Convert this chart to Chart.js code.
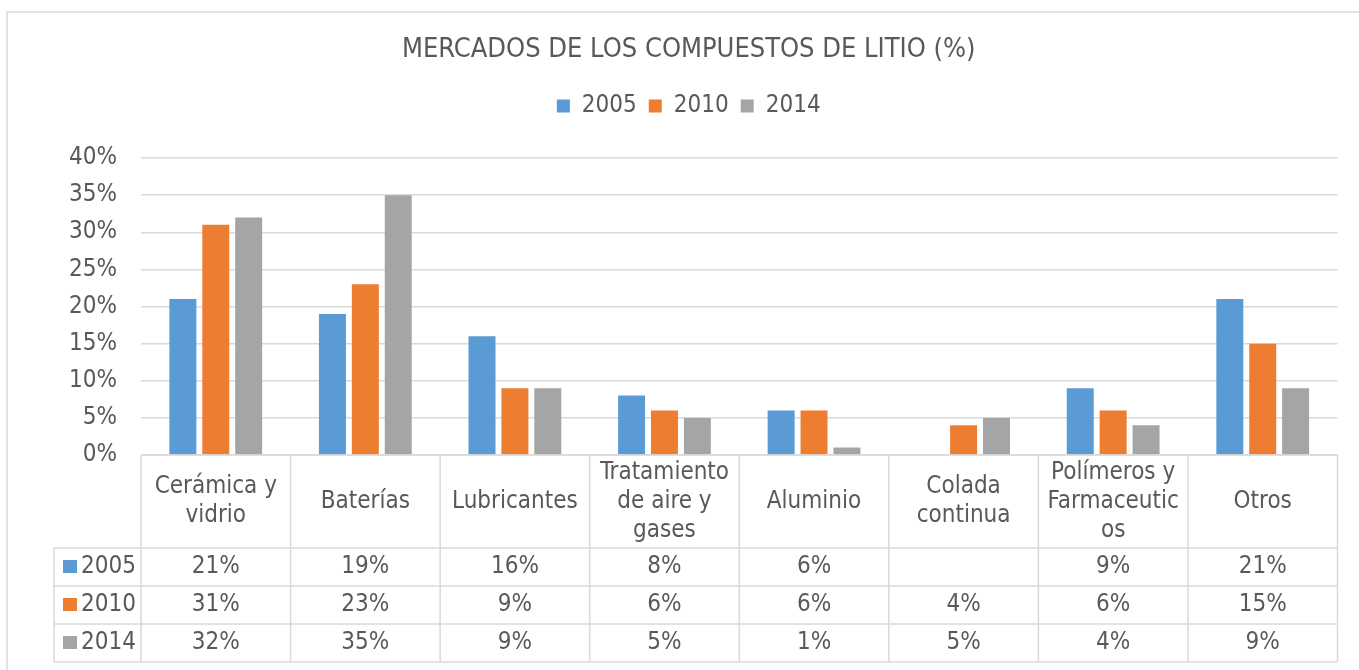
<!DOCTYPE html>
<html>
<head>
<meta charset="utf-8">
<script src="https://cdn.jsdelivr.net/npm/chart.js@4.4.0/dist/chart.umd.min.js"></script>
<style>
body { margin: 0; background: #fff; }
</style>
</head>
<body>
<canvas id="myChart" width="1359" height="670"></canvas>
<script>
// data
const categories = [
    ['Cerámica y', 'vidrio'],
    ['Baterías'],
    ['Lubricantes'],
    ['Tratamiento', 'de aire y', 'gases'],
    ['Aluminio'],
    ['Colada', 'continua'],
    ['Polímeros y', 'Farmaceutic', 'os'],
    ['Otros']
]
const years = ['2005', '2010', '2014']
const values2005 = [21, 19, 16, 8, 6, null, 9, 21]
const values2010 = [31, 23, 9, 6, 6, 4, 6, 15]
const values2014 = [32, 35, 9, 5, 1, 5, 4, 9]
const yTicks = [0, 5, 10, 15, 20, 25, 30, 35, 40]

const allValues = [values2005, values2010, values2014]
const colors = ['#5B9BD5', '#ED7D31', '#A5A5A5']
const textColor = '#595959'
const lineColor = '#D9D9D9'
const family = '"DejaVu Sans Condensed", "DejaVu Sans", sans-serif'

const headerHeight = 93
const rowHeight = 38
const tableLeft = 54

// excel style data table under the plot
const dataTable = {
    id: 'dataTable',
    beforeDraw(chart) {
        const c = chart.ctx
        c.save()
        c.fillStyle = '#fff'
        c.fillRect(0, 0, chart.width, chart.height)
        c.strokeStyle = lineColor
        c.lineWidth = 1.5
        c.strokeRect(7, 12, chart.width + 20, chart.height + 20)
        c.restore()
    },
    afterDraw(chart) {
        const c = chart.ctx
        const x = chart.scales.x
        const area = chart.chartArea
        const half = (x.getPixelForValue(1) - x.getPixelForValue(0)) / 2
        const top = area.bottom
        const headBottom = top + headerHeight
        const bottom = headBottom + rowHeight * years.length

        c.save()
        c.strokeStyle = lineColor
        c.lineWidth = 1.5
        c.beginPath()
        // horizontal lines
        c.moveTo(area.left, top)
        c.lineTo(area.right, top)
        for (let r = 0; r <= years.length; r++) {
            const y = headBottom + r * rowHeight
            c.moveTo(tableLeft, y)
            c.lineTo(area.right, y)
        }
        // vertical lines
        c.moveTo(tableLeft, headBottom)
        c.lineTo(tableLeft, bottom)
        for (let i = 0; i <= categories.length; i++) {
            const xb = i < categories.length ? x.getPixelForValue(i) - half : area.right
            c.moveTo(xb, top)
            c.lineTo(xb, bottom)
        }
        c.stroke()

        c.fillStyle = textColor
        c.font = '24px ' + family
        c.textAlign = 'center'
        c.textBaseline = 'middle'
        const lineH = 29
        categories.forEach((lines, i) => {
            const cx = x.getPixelForValue(i)
            const cy = top + headerHeight / 2
            lines.forEach((t, k) => {
                c.fillText(t, cx, cy + (k - (lines.length - 1) / 2) * lineH)
            })
        })

        years.forEach((yr, r) => {
            const cy = headBottom + r * rowHeight + rowHeight / 2
            c.fillStyle = colors[r]
            c.fillRect(tableLeft + 9, cy - 7, 14, 13)
            c.fillStyle = textColor
            c.textAlign = 'left'
            c.fillText(yr, tableLeft + 27, cy)
            c.textAlign = 'center'
            allValues[r].forEach((v, i) => {
                if (v === null) return
                c.fillText(v + '%', x.getPixelForValue(i), cy)
            })
        })
        c.restore()
    }
}

const ctx = document.getElementById('myChart').getContext('2d')
const myChart = new Chart(ctx, {
    type: 'bar',
    data: {
        labels: categories.map(c => c.join(' ')),
        datasets: years.map((yr, r) => ({
            label: yr,
            data: allValues[r],
            backgroundColor: colors[r],
            borderWidth: 0,
            categoryPercentage: 0.66,
            barPercentage: 0.82
        }))
    },
    options: {
        responsive: false,
        animation: false,
        devicePixelRatio: 1,
        layout: {
            padding: { left: 40, right: 21.5, top: 12, bottom: 215 }
        },
        plugins: {
            title: {
                display: true,
                text: 'MERCADOS DE LOS COMPUESTOS DE LITIO (%)',
                color: textColor,
                font: { family: family, size: 27, weight: 'normal', lineHeight: 1.2 },
                padding: { top: 22, bottom: 15.6 }
            },
            subtitle: {
                display: true,
                text: '',
                weight: 500,
                font: { size: 30, lineHeight: 1 },
                padding: 0
            },
            legend: {
                display: true,
                position: 'top',
                labels: {
                    color: textColor,
                    font: { family: family, size: 24 },
                    boxWidth: 13,
                    boxHeight: 13,
                    padding: 12
                }
            },
            tooltip: { enabled: false }
        },
        scales: {
            x: {
                display: false
            },
            y: {
                min: 0,
                max: 40,
                afterFit(scale) { scale.width = 101 },
                afterBuildTicks(scale) { scale.ticks = yTicks.map(v => ({ value: v })) },
                border: { display: false },
                grid: { color: lineColor, lineWidth: 1.5, drawTicks: false },
                ticks: {
                    color: textColor,
                    padding: 24,
                    font: { family: family, size: 24 },
                    callback: v => v + '%'
                }
            }
        }
    },
    plugins: [dataTable]
});
</script>
</body>
</html>
